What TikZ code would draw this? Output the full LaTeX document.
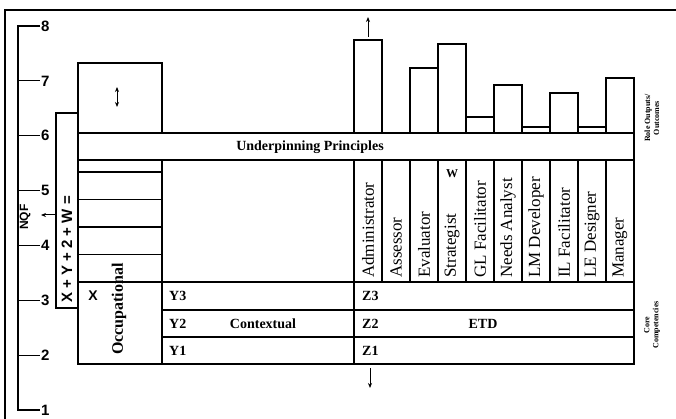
\documentclass[tikz,border=0pt]{standalone}
\usepackage{fontspec}
\setmainfont{Liberation Serif}
\setsansfont{Liberation Sans}
\usetikzlibrary{arrows.meta}
\begin{document}
\begin{tikzpicture}[x=1pt,y=-1pt,
  box/.style={draw, line width=1.4pt, inner sep=0pt, outer sep=0pt, anchor=north west},
  role/.style={font=\fontsize{17}{17}\selectfont, rotate=90, anchor=west, inner sep=0pt},
  lbl/.style={font=\bfseries\fontsize{14}{14}\selectfont, inner sep=0pt},
  num/.style={font=\sffamily\bfseries\fontsize{15}{15}\selectfont, anchor=west, inner sep=0pt},
  side/.style={font=\bfseries\fontsize{8}{9}\selectfont, rotate=90, align=center, inner sep=0pt},
  tip/.style={line width=1pt, -{Stealth[length=5pt,width=4pt]}},
]
\useasboundingbox (0,0) rectangle (676,419);

% outer frame
\draw[line width=2.6pt] (5,419) -- (5,10) -- (676,10);

% NQF scale
\draw[line width=1.1pt] (40,26) -- (18,26) -- (18,410) -- (40,410);
\foreach \v/\yy in {7/80.9,6/135.7,5/190.6,4/245.4,3/300.3,2/355.1}
  \draw[line width=1.1pt] (18,\yy) -- (40,\yy);
\foreach \v/\yy in {8/26,7/80.9,6/135.7,5/190.6,4/245.4,3/300.3,2/355.1,1/410}
  \node[num] (n\v) at (41,\yy) {\v};
\node[font=\sffamily\bfseries\fontsize{12}{12}\selectfont, rotate=90, inner sep=0pt] (nqf) at (25,217) {NQF};

% total box
\node[box, minimum width=22pt, minimum height=195pt] (total) at (56,113) {};
\node[font=\sffamily\bfseries\fontsize{15}{15}\selectfont, rotate=90, anchor=west, inner sep=0pt] (totaltxt) at (67,303) {X + Y + 2 + W =};
\coordinate (nqfpt) at (41,215);
\draw[tip] (total.west |- nqfpt) -- (nqfpt);

% occupational column
\node[box, minimum width=84pt, minimum height=70pt] (occtop) at (78,63) {};
\draw[line width=1pt, {Stealth[length=5pt,width=4pt]}-{Stealth[length=5pt,width=4pt]}] (117,87) coordinate (occa) -- (117,107) coordinate (occb);
\node[box, minimum width=84pt, minimum height=204pt] (occcol) at (78,160) {};
\foreach \i/\yy in {1/172,2/199.5,3/227,4/254.5}
  \node[box, minimum width=84pt, minimum height=27.5pt] (lev\i) at (78,\yy) {};
\node[box, minimum width=84pt, minimum height=82pt] (occ) at (78,282) {};
\node[font=\sffamily\bfseries\fontsize{14}{14}\selectfont, inner sep=0pt] (xlbl) at (93,296) {X};
\node[font=\bfseries\fontsize{16}{16}\selectfont, rotate=90, inner sep=0pt] (occlbl) at (119,309) {Occupational};

% underpinning principles
\node[box, minimum width=556pt, minimum height=27pt] (up) at (78,133) {};
\node[lbl] (uptxt) at (310,147) {Underpinning Principles};

% contextual column and rows
\node[box, minimum width=192pt, minimum height=122pt] (ctxcol) at (162,160) {};
\node[box, minimum width=192pt, minimum height=28pt] (y3) at (162,282) {};
\node[box, minimum width=192pt, minimum height=27pt] (y2) at (162,310) {};
\node[box, minimum width=192pt, minimum height=27pt] (y1) at (162,337) {};
\node[lbl, anchor=west] at (169,296) {Y3};
\node[lbl, anchor=west] at (169,323.5) {Y2};
\node[lbl, anchor=west] at (169,350.5) {Y1};
\node[lbl] (ctx) at (263,323.5) {Contextual};

% ETD rows
\node[box, minimum width=280pt, minimum height=28pt] (z3) at (354,282) {};
\node[box, minimum width=280pt, minimum height=27pt] (z2) at (354,310) {};
\node[box, minimum width=280pt, minimum height=27pt] (z1) at (354,337) {};
\node[lbl, anchor=west] at (362,296) {Z3};
\node[lbl, anchor=west] at (362,323.5) {Z2};
\node[lbl, anchor=west] at (362,350.5) {Z1};
\node[lbl] (etd) at (483,323.5) {ETD};
\coordinate (zdown) at (370,388);
\draw[tip] (370,368) -- (zdown);

% roles
\foreach \i/\name in {0/Administrator,1/Assessor,2/Evaluator,3/Strategist,4/GL Facilitator,5/Needs Analyst,6/LM Developer,7/IL Facilitator,8/LE Designer,9/Manager}{
  \node[box, minimum width=28pt, minimum height=122pt] (r\i) at ({354+28*\i},160) {};
  \node[role] at ({368+28*\i},278) {\name};
}
\node[font=\bfseries\fontsize{12}{12}\selectfont, inner sep=0pt] (wlbl) at (452,174) {W};

% role outputs
\foreach \i/\top in {0/40,2/68,3/44,4/117,5/85,6/127,7/93,8/127,9/78}
  \node[box, minimum width=28pt, minimum height={133-\top}] (o\i) at ({354+28*\i},\top) {};
\coordinate (oup) at (368,17);
\draw[tip] (368,37) -- (oup);

% side labels
\node[side] (outlbl) at (652,118) {Role Outputs/\\Outcomes};
\node[side] (corelbl) at (652,325) {Core\\Competencies};
\end{tikzpicture}
\end{document}
